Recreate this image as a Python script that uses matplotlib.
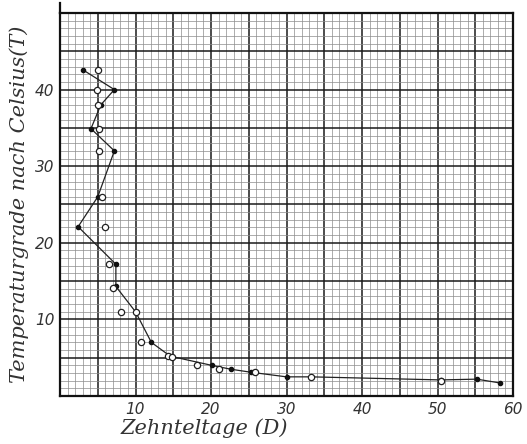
import matplotlib
matplotlib.use("Agg")
import matplotlib.pyplot as plt
from matplotlib.ticker import MultipleLocator, FuncFormatter

# Zehnteltage (D) vs Temperatur (T)
# line series (filled dots)
d_line = [3.0, 7.2, 5.4, 4.1, 7.2, 5.0, 2.4, 7.4, 7.4, 10.0, 12.1, 14.6, 20.1, 22.6, 25.3, 30.0, 33.3, 50.4, 55.2, 58.3]
t_line = [42.6, 40.0, 38.0, 34.9, 32.0, 26.0, 22.1, 17.2, 14.3, 11.0, 7.0, 5.2, 4.0, 3.5, 3.1, 2.5, 2.5, 2.1, 2.2, 1.7]

# open circles
d_open = [5.0, 4.9, 5.0, 5.2, 5.2, 5.5, 5.9, 6.45, 7.0, 8.1, 10.0, 10.7, 14.3, 14.9, 18.1, 21.0, 25.8, 33.3, 50.4]
t_open = [42.5, 40.0, 38.0, 34.9, 32.0, 26.0, 22.1, 17.2, 14.1, 11.0, 11.0, 7.0, 5.2, 5.1, 4.1, 3.5, 3.1, 2.5, 2.0]

xticks = [10, 20, 30, 40, 50, 60]
yticks = [10, 20, 30, 40]

fig = plt.figure(figsize=(5.27, 4.44), dpi=100)
ax = fig.add_axes([60 / 527, 1 - 396 / 444, 453 / 527, 383 / 444])

ax.set_xlim(0, 60)
ax.set_ylim(0, 50)

ax.xaxis.set_major_locator(MultipleLocator(5))
ax.xaxis.set_minor_locator(MultipleLocator(1))
ax.yaxis.set_major_locator(MultipleLocator(5))
ax.yaxis.set_minor_locator(MultipleLocator(1))

ax.grid(which="minor", color="#8c8c8c", linewidth=0.5)
ax.grid(which="major", color="#1a1a1a", linewidth=1.1)
ax.set_axisbelow(True)

fmt_x = FuncFormatter(lambda v, p: "%d" % v if int(round(v)) in xticks else "")
fmt_y = FuncFormatter(lambda v, p: "%d" % v if int(round(v)) in yticks else "")
ax.xaxis.set_major_formatter(fmt_x)
ax.yaxis.set_major_formatter(fmt_y)
ax.tick_params(which="both", length=0, labelsize=11, colors="#333333")
ax.tick_params(axis="x", pad=4)
ax.tick_params(axis="y", pad=4)
for lab in ax.get_xticklabels() + ax.get_yticklabels():
    lab.set_fontstyle("italic")

for s in ax.spines.values():
    s.set_linewidth(1.6)
    s.set_color("#111111")
# left spine runs a bit above the grid
ax.plot([0, 0], [50, 51.3], color="#111111", linewidth=1.6, clip_on=False)

ax.plot(d_line, t_line, color="#222222", linewidth=0.9, marker="o", markersize=3,
        markerfacecolor="#111111", markeredgecolor="#111111", zorder=3)
ax.plot(d_open, t_open, linestyle="none", marker="o", markersize=4.5,
        markerfacecolor="white", markeredgecolor="#222222", markeredgewidth=0.9, zorder=4)

ax.set_xlabel("Zehnteltage (D)", fontsize=15, family="DejaVu Serif", style="italic",
              color="#333333")
ax.xaxis.set_label_coords((204 - 60) / 453, -(428 - 396) / 383)
ax.xaxis.label.set_va("center")
ax.set_ylabel("Temperaturgrade nach Celsius(T)", fontsize=15, family="DejaVu Serif",
              style="italic", color="#333333", labelpad=4)

fig.savefig("out.png", dpi=100)
